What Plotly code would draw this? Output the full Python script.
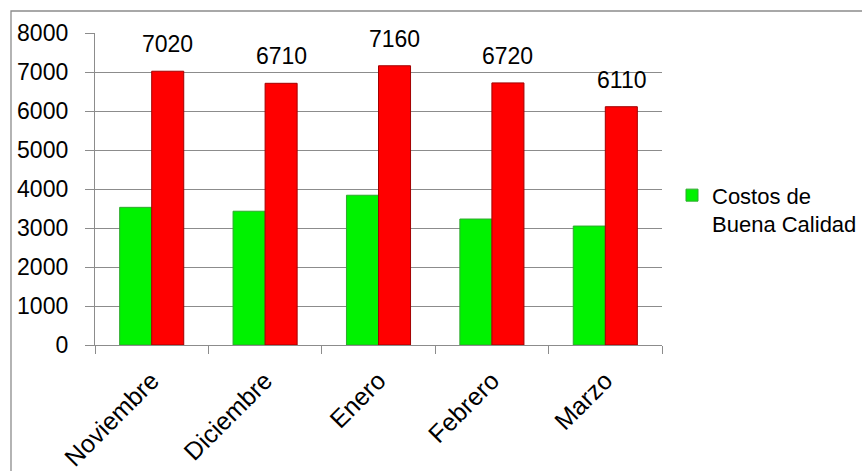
import plotly.graph_objects as go

meses = ["Noviembre", "Diciembre", "Enero", "Febrero", "Marzo"]
buena = [3530, 3430, 3840, 3230, 3050]
mala = [7020, 6710, 7160, 6720, 6110]
y_ticks = [0, 1000, 2000, 3000, 4000, 5000, 6000, 7000, 8000]

FONT = "Liberation Sans"
W, H = 862, 471
ML, MR, MT, MB = 95, 200, 33, 126
PW = W - ML - MR
PH = H - MT - MB

fig = go.Figure()
fig.add_trace(go.Bar(
    x=meses, y=buena, name="Costos de<br>Buena Calidad",
    marker=dict(color="#00f200", line=dict(color="#2fa82f", width=1)),
))
fig.add_trace(go.Bar(
    x=meses, y=mala, name="Costos de Mala Calidad", showlegend=False,
    marker=dict(color="#ff0000", line=dict(color="#a30000", width=1)),
))

for m, v in zip(meses, mala):
    fig.add_annotation(x=m, y=v, text=str(v), showarrow=False,
                       xanchor="center", yanchor="bottom", xshift=16, yshift=12,
                       font=dict(family=FONT, size=23, color="black"))

# outer chart-area border (cropped at right and bottom in the reference)
fig.add_shape(type="rect", xref="paper", yref="paper",
              x0=(11 - ML) / PW, x1=2, y0=-1, y1=1 + (MT - 11) / PH,
              line=dict(color="#8c8c8c", width=1.3), layer="below")

fig.update_layout(
    width=W, height=H,
    margin=dict(l=ML, r=MR, t=MT, b=MB, autoexpand=False),
    paper_bgcolor="white", plot_bgcolor="white",
    barmode="group", bargap=0.435, bargroupgap=0,
    font=dict(family=FONT, size=23, color="black"),
    showlegend=True,
    legend=dict(x=(672 - ML) / PW, y=0.547, xanchor="left", yanchor="top",
                itemwidth=30,
                font=dict(family=FONT, size=22, color="black"),
                valign="top", bgcolor="rgba(0,0,0,0)", itemclick=False),
)
fig.update_xaxes(
    automargin=False,
    showline=True, linecolor="#8c8c8c", linewidth=1.3,
    ticks="outside", tickson="boundaries", ticklen=8, tickcolor="#8c8c8c", tickwidth=1.3,
    tickangle=-45, ticklabelstandoff=10,
    tickfont=dict(family=FONT, size=25, color="black"),
    showgrid=False,
)
fig.update_yaxes(
    automargin=False,
    range=[0, 8000], tickvals=y_ticks,
    showline=True, linecolor="#8c8c8c", linewidth=1.3,
    ticks="outside", ticklen=9, tickcolor="#8c8c8c", tickwidth=1.3,
    showgrid=True, gridcolor="#8c8c8c", gridwidth=1.3,
    zeroline=False, ticklabelstandoff=12,
    tickfont=dict(family=FONT, size=23, color="black"),
)

fig.write_html("out.html")
